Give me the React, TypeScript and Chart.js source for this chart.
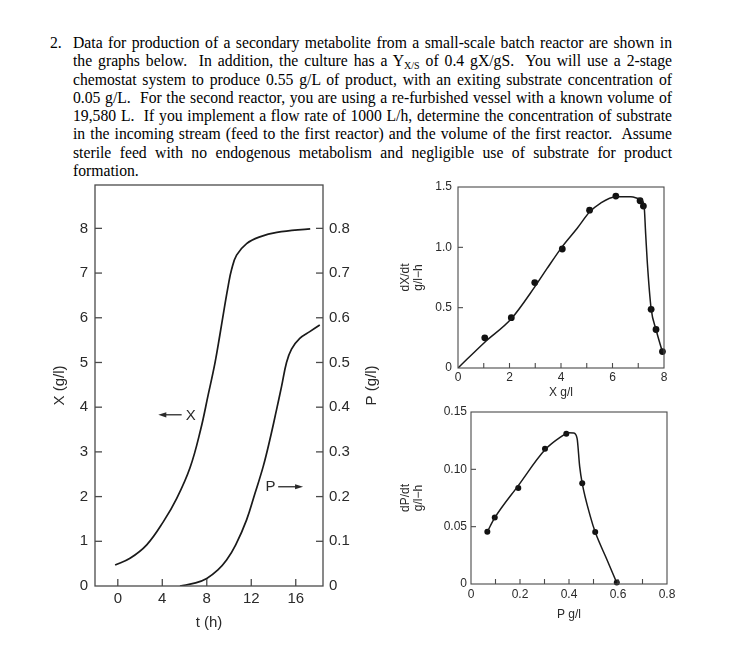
import React, { useEffect, useRef } from "react";
import { Chart, registerables } from "chart.js";
Chart.register(...registerables);

// ---------- Left chart: batch culture X(t), P(t) ----------
const T_TICKS = [0, 4, 8, 12, 16];
const X_AXIS_TICKS = [0, 1, 2, 3, 4, 5, 6, 7, 8];
const P_AXIS_TICKS = [0, 0.1, 0.2, 0.3, 0.4, 0.5, 0.6, 0.7, 0.8];
const X_TIME = [-0.24, 1.1, 2.6, 4.1, 5.3, 6.5, 7.45, 8.13, 8.73, 9.18, 9.54, 9.93, 10.23, 10.68, 11.58, 12.77, 14.3, 17.3];
const X_CONC = [0.47, 0.62, 0.92, 1.44, 1.96, 2.65, 3.5, 4.28, 4.98, 5.62, 6.16, 6.72, 7.08, 7.4, 7.66, 7.81, 7.91, 7.99];
const P_TIME = [5.59, 7.0, 8.0, 9.0, 9.78, 10.6, 11.58, 12.33, 13.07, 13.67, 14.27, 14.72, 15.17, 15.62, 16.36, 17.26, 18.16];
const P_CONC = [0, 0.007, 0.017, 0.036, 0.058, 0.092, 0.148, 0.207, 0.267, 0.327, 0.394, 0.446, 0.5, 0.53, 0.554, 0.569, 0.584];
// annotation anchors (data coordinates)
const X_NOTE = { t: 6.55, x: 3.83, arrowFrom: 5.74, arrowTo: 3.64 };
const P_NOTE = { t: 13.72, p: 0.222, arrowFrom: 14.42, arrowTo: 16.66 };

// ---------- Top right: dX/dt vs X ----------
const RX_XTICKS = [0, 1, 2, 3, 4, 5, 6, 7, 8];
const RX_YTICKS = [0, 0.5, 1.0, 1.5];
const DXDT_CURVE_X = [0, 1.04, 2.07, 2.98, 3.46, 4.05, 4.63, 5.11, 5.54, 6.13, 6.71, 7.03, 7.22, 7.29, 7.35, 7.5, 7.69, 7.94];
const DXDT_CURVE_Y = [0, 0.214, 0.408, 0.672, 0.825, 1.006, 1.158, 1.292, 1.367, 1.419, 1.419, 1.403, 1.358, 1.103, 0.881, 0.492, 0.319, 0.131];
const DXDT_PTS_X = [1.04, 2.07, 2.98, 4.05, 5.11, 6.13, 7.07, 7.2, 7.5, 7.69, 7.94];
const DXDT_PTS_Y = [0.25, 0.417, 0.708, 0.986, 1.308, 1.425, 1.386, 1.342, 0.486, 0.319, 0.136];

// ---------- Bottom right: dP/dt vs P ----------
const RP_XTICKS = [0, 0.1, 0.2, 0.3, 0.4, 0.5, 0.6, 0.7, 0.8];
const RP_YTICKS = [0, 0.05, 0.1, 0.15];
const DPDT_CURVE_X = [0.0667, 0.0966, 0.193, 0.302, 0.365, 0.399, 0.419, 0.433, 0.4435, 0.454, 0.487, 0.507, 0.555, 0.5946];
const DPDT_CURVE_Y = [0.0456, 0.0576, 0.0858, 0.117, 0.128, 0.132, 0.1317, 0.127, 0.1026, 0.0878, 0.059, 0.0453, 0.0212, 0.0012];
const DPDT_PTS_X = [0.0667, 0.097, 0.193, 0.302, 0.389, 0.454, 0.507, 0.595];
const DPDT_PTS_Y = [0.0456, 0.058, 0.0837, 0.118, 0.131, 0.0878, 0.0453, 0.0012];

// ---------- Problem text ----------
const TEXT_LINES = [
  "Data for production of a secondary metabolite from a small-scale batch reactor are shown in",
  "the graphs below.\u00a0 In addition, the culture has a {Yxs} of 0.4 gX/gS.\u00a0 You will use a 2-stage",
  "chemostat system to produce 0.55 g/L of product, with an exiting substrate concentration of",
  "0.05 g/L.\u00a0 For the second reactor, you are using a re-furbished vessel with a known volume of",
  "19,580 L.\u00a0 If you implement a flow rate of 1000 L/h, determine the concentration of substrate",
  "in the incoming stream (feed to the first reactor) and the volume of the first reactor.\u00a0 Assume",
  "sterile feed with no endogenous metabolism and negligible use of substrate for product",
  "formation.",
];

const SANS = "'Liberation Sans', Arial, Helvetica, sans-serif";
const SERIF = "'Liberation Serif', 'Times New Roman', serif";
const INK = "#2a2a2a";
const AXIS = "#4a4a4a";

const zip = (xs: number[], ys: number[]) => xs.map((x, i) => ({ x, y: ys[i] }));
const setTicks = (vals: number[]) => (s: any) => {
  s.ticks = vals.map((v) => ({ value: v }));
};
const fixV = (w: number) => (s: any) => {
  s.width = w;
  s.paddingTop = 0;
  s.paddingBottom = 0;
};
const fixH = (h: number) => (s: any) => {
  s.height = h;
  s.paddingLeft = 0;
  s.paddingRight = 0;
};

// box + inner tick marks
const innerTicks = {
  id: "innerTicks",
  afterDraw(chart: any, _a: any, opts: any) {
    const { ctx, chartArea } = chart;
    const { left, right, top, bottom } = chartArea;
    ctx.save();
    ctx.strokeStyle = AXIS;
    ctx.lineWidth = opts.width || 1.2;
    ctx.strokeRect(left, top, right - left, bottom - top);
    const lens = opts.len || {};
    Object.keys(lens).forEach((id) => {
      const s = chart.scales[id];
      if (!s) return;
      const L = lens[id];
      const eps = (s.max - s.min) * 1e-6;
      s.ticks.forEach((t: any) => {
        const v = t.value;
        if (v <= s.min + eps || v >= s.max - eps) return;
        const p = s.getPixelForValue(v);
        ctx.beginPath();
        if (id === "x") {
          ctx.moveTo(p, bottom);
          ctx.lineTo(p, bottom - L);
        } else if (s.position === "left") {
          ctx.moveTo(left, p);
          ctx.lineTo(left + L, p);
        } else {
          ctx.moveTo(right, p);
          ctx.lineTo(right - L, p);
        }
        ctx.stroke();
      });
    });
    ctx.restore();
  },
};

// annotations of the left chart
const batchNotes = {
  id: "batchNotes",
  afterDraw(chart: any) {
    const { ctx, chartArea, scales } = chart;
    const xs = scales.x, ys = scales.y, y2 = scales.y2;
    ctx.save();
    ctx.fillStyle = INK;
    ctx.strokeStyle = INK;
    ctx.lineWidth = 1.3;
    ctx.font = `15px ${SANS}`;
    ctx.textBaseline = "middle";
    ctx.textAlign = "center";
    const arrow = (x1: number, x2: number, y: number) => {
      const dir = x2 > x1 ? 1 : -1;
      ctx.beginPath();
      ctx.moveTo(x1, y);
      ctx.lineTo(x2 - dir * 6, y);
      ctx.stroke();
      ctx.beginPath();
      ctx.moveTo(x2, y);
      ctx.lineTo(x2 - dir * 8, y - 2.6);
      ctx.lineTo(x2 - dir * 8, y + 2.6);
      ctx.closePath();
      ctx.fill();
    };
    const yx = ys.getPixelForValue(X_NOTE.x);
    ctx.fillText("X", xs.getPixelForValue(X_NOTE.t), yx + 1);
    arrow(xs.getPixelForValue(X_NOTE.arrowFrom), xs.getPixelForValue(X_NOTE.arrowTo), yx);
    const yp = y2.getPixelForValue(P_NOTE.p);
    ctx.fillText("P", xs.getPixelForValue(P_NOTE.t), yp);
    arrow(xs.getPixelForValue(P_NOTE.arrowFrom), xs.getPixelForValue(P_NOTE.arrowTo), yp);
    // right axis title, reading bottom-to-top
    ctx.translate(chartArea.right + 49, (chartArea.top + chartArea.bottom) / 2);
    ctx.rotate(-Math.PI / 2);
    ctx.fillText("P (g/l)", 0, 0);
    ctx.restore();
  },
};

const baseOpts = {
  responsive: false,
  animation: false as const,
  events: [] as any[],
  devicePixelRatio: 1,
};

const tickFont = (size: number) => ({ family: SANS, size });
const noGrid = { display: false, drawTicks: false };

function useChart(ref: React.RefObject<HTMLCanvasElement>, build: () => any) {
  useEffect(() => {
    if (!ref.current) return;
    const ch = new Chart(ref.current, build());
    return () => ch.destroy();
  }, []);
}

function BatchChart() {
  const ref = useRef<HTMLCanvasElement>(null);
  useChart(ref, () => ({
    type: "line",
    data: {
      datasets: [
        {
          data: zip(X_TIME, X_CONC),
          yAxisID: "y",
          borderColor: "#1a1a1a",
          borderWidth: 1.7,
          pointRadius: 0,
          tension: 0.4,
          fill: false,
        },
        {
          data: zip(P_TIME, P_CONC),
          yAxisID: "y2",
          borderColor: "#1a1a1a",
          borderWidth: 1.7,
          pointRadius: 0,
          tension: 0.4,
          fill: false,
        },
      ],
    },
    plugins: [innerTicks, batchNotes],
    options: {
      ...baseOpts,
      layout: { padding: { top: 10, left: 0, right: 0, bottom: 0 } },
      plugins: {
        legend: { display: false },
        tooltip: { enabled: false },
        innerTicks: { len: { x: 7, y: 7, y2: 7 }, width: 1.3 },
      },
      scales: {
        x: {
          type: "linear",
          min: -2.05,
          max: 18.45,
          afterBuildTicks: setTicks(T_TICKS),
          afterFit: fixH(54),
          grid: noGrid,
          border: { display: false },
          ticks: { padding: 4, font: tickFont(15), color: INK, autoSkip: false, maxRotation: 0 },
          title: { display: true, text: "t (h)", font: tickFont(15), color: INK, padding: { top: 0, bottom: 8 } },
        },
        y: {
          type: "linear",
          position: "left",
          min: 0,
          max: 8.97,
          afterBuildTicks: setTicks(X_AXIS_TICKS),
          afterFit: fixV(75),
          grid: noGrid,
          border: { display: false },
          ticks: { padding: 7, font: tickFont(15), color: INK, autoSkip: false },
          title: { display: true, text: "X (g/l)", font: tickFont(15), color: INK, padding: { top: 31, bottom: 0 } },
        },
        y2: {
          type: "linear",
          position: "right",
          min: 0,
          max: 0.897,
          afterBuildTicks: setTicks(P_AXIS_TICKS),
          afterFit: fixV(72),
          grid: noGrid,
          border: { display: false },
          ticks: {
            padding: 6,
            font: tickFont(15),
            color: INK,
            autoSkip: false,
            callback: (v: number) => (v === 0 ? "0" : v.toFixed(1)),
          },
        },
      },
    },
  }));
  return <canvas ref={ref} width={375} height={465} style={{ position: "absolute", left: 20, top: 175 }} />;
}

function RateChart(props: {
  left: number; top: number; width: number; height: number;
  padTop: number; padRight: number; yWidth: number; xHeight: number;
  curveX: number[]; curveY: number[]; ptsX: number[]; ptsY: number[];
  xTicks: number[]; yTicks: number[]; xMax: number; yMax: number;
  xLabel: (v: number, i: number) => string; yLabel: (v: number) => string;
  yTitle: string[]; xTitle: string; xTitlePad: number; yTickPad: number; xTickPad: number; r: number;
}) {
  const ref = useRef<HTMLCanvasElement>(null);
  const p = props;
  useChart(ref, () => ({
    type: "line",
    data: {
      datasets: [
        {
          data: zip(p.curveX, p.curveY),
          borderColor: "#1a1a1a",
          borderWidth: 1.5,
          pointRadius: 0,
          cubicInterpolationMode: "monotone",
          fill: false,
        },
        {
          data: zip(p.ptsX, p.ptsY),
          showLine: false,
          pointRadius: p.r,
          pointBackgroundColor: "#111",
          pointBorderColor: "#111",
          pointBorderWidth: 0,
          clip: false,
        },
      ],
    },
    plugins: [innerTicks],
    options: {
      ...baseOpts,
      layout: { padding: { top: p.padTop, left: 0, right: p.padRight, bottom: 0 } },
      plugins: {
        legend: { display: false },
        tooltip: { enabled: false },
        innerTicks: { len: { x: 5, y: 5 }, width: 1.1 },
      },
      scales: {
        x: {
          type: "linear",
          min: 0,
          max: p.xMax,
          afterBuildTicks: setTicks(p.xTicks),
          afterFit: fixH(p.xHeight),
          grid: noGrid,
          border: { display: false },
          ticks: {
            padding: p.xTickPad,
            font: tickFont(12),
            color: INK,
            autoSkip: false,
            maxRotation: 0,
            callback: (v: number, i: number) => p.xLabel(v, i),
          },
          title: { display: true, text: p.xTitle, font: tickFont(12), color: INK, padding: { top: 0, bottom: p.xTitlePad } },
        },
        y: {
          type: "linear",
          position: "left",
          min: 0,
          max: p.yMax,
          afterBuildTicks: setTicks(p.yTicks),
          afterFit: fixV(p.yWidth),
          grid: noGrid,
          border: { display: false },
          ticks: {
            padding: p.yTickPad,
            font: tickFont(12),
            color: INK,
            autoSkip: false,
            callback: (v: number) => p.yLabel(v),
          },
          title: {
            display: true,
            text: p.yTitle,
            font: { family: SANS, size: 12, lineHeight: 1.1 },
            color: INK,
            padding: { top: 4, bottom: 0 },
          },
        },
      },
    },
  }));
  return (
    <canvas
      ref={ref}
      width={p.width}
      height={p.height}
      style={{ position: "absolute", left: p.left, top: p.top }}
    />
  );
}

function ProblemText() {
  const last = TEXT_LINES.length - 1;
  return (
    <>
      <div
        style={{
          position: "absolute", left: 50, top: 34, fontFamily: SERIF, fontSize: 15.7,
          lineHeight: "18.3px", color: "#000",
        }}
      >
        2.
      </div>
      <div
        style={{
          position: "absolute", left: 73, top: 34, width: 599, fontFamily: SERIF, fontSize: 15.7,
          lineHeight: "18.3px", color: "#000",
        }}
      >
        {TEXT_LINES.map((ln, i) => {
          const parts = ln.split("{Yxs}");
          return (
            <div
              key={i}
              style={{
                textAlign: i < last ? "justify" : "left",
                textAlignLast: i < last ? "justify" : "auto",
                height: "18.3px",
                overflow: "visible",
              } as any}
            >
              {parts[0]}
              {parts.length > 1 && (
                <span>
                  Y<span style={{ fontSize: 10, position: "relative", top: 3 }}>X/S</span>
                </span>
              )}
              {parts.length > 1 ? parts[1] : null}
            </div>
          );
        })}
      </div>
    </>
  );
}

export default function App() {
  return (
    <div style={{ position: "absolute", left: 0, top: 0, width: 734, height: 657, background: "#fff", overflow: "hidden" }}>
      <ProblemText />
      <BatchChart />
      <RateChart
        left={395} top={175} width={315} height={230}
        padTop={12} padRight={46} yWidth={63} xHeight={37}
        curveX={DXDT_CURVE_X} curveY={DXDT_CURVE_Y} ptsX={DXDT_PTS_X} ptsY={DXDT_PTS_Y}
        xTicks={RX_XTICKS} yTicks={RX_YTICKS} xMax={8} yMax={1.5}
        xLabel={(v, i) => (i % 2 === 0 ? String(v) : "")}
        yLabel={(v) => (v === 0 ? "0" : v.toFixed(1))}
        yTitle={["dX/dt", "g/l\u2212h"]} xTitle="X g/l" xTitlePad={5}
        yTickPad={6} xTickPad={2} r={3.4}
      />
      <RateChart
        left={395} top={400} width={315} height={250}
        padTop={12} padRight={43} yWidth={76} xHeight={66}
        curveX={DPDT_CURVE_X} curveY={DPDT_CURVE_Y} ptsX={DPDT_PTS_X} ptsY={DPDT_PTS_Y}
        xTicks={RP_XTICKS} yTicks={RP_YTICKS} xMax={0.8} yMax={0.15}
        xLabel={(v, i) => (i % 2 === 0 ? (v === 0 ? "0" : v.toFixed(1)) : "")}
        yLabel={(v) => (v === 0 ? "0" : v.toFixed(2))}
        yTitle={["dP/dt", "g/l\u2212h"]} xTitle="P g/l" xTitlePad={28}
        yTickPad={4} xTickPad={3} r={3}
      />
    </div>
  );
}
